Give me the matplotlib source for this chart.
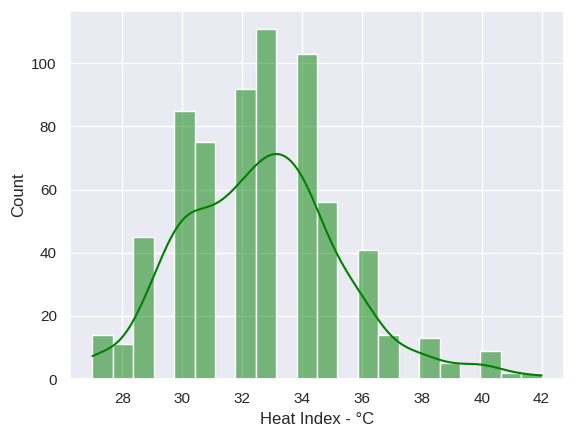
import numpy as np
import matplotlib
matplotlib.use("Agg")
import matplotlib.pyplot as plt
import seaborn as sns

# heat index values (deg C) and how many records fall on each
heat_values = [27, 28, 29, 30, 31, 32, 33, 34, 35, 36, 37, 38, 39, 40, 41, 42]
heat_counts = [14, 11, 45, 85, 75, 92, 111, 103, 56, 41, 14, 13, 5, 9, 2, 2]
n_bins = 22

sns.set_theme()
plt.rcParams['font.family'] = ['Liberation Sans', 'DejaVu Sans']

# rebuild the sample from the counts so the kde sees the real n
heat = np.repeat(heat_values, heat_counts)

fig, ax = plt.subplots(figsize=(5.75, 4.37), dpi=100)
fig.subplots_adjust(left=0.1217, right=0.981, bottom=0.1327, top=0.9748)

sns.histplot(x=heat, bins=n_bins, kde=True, color='green', ax=ax)
ax.set_xlabel('Heat Index - °C')
ax.set_ylabel('Count')

fig.savefig('out.png', dpi=100)
